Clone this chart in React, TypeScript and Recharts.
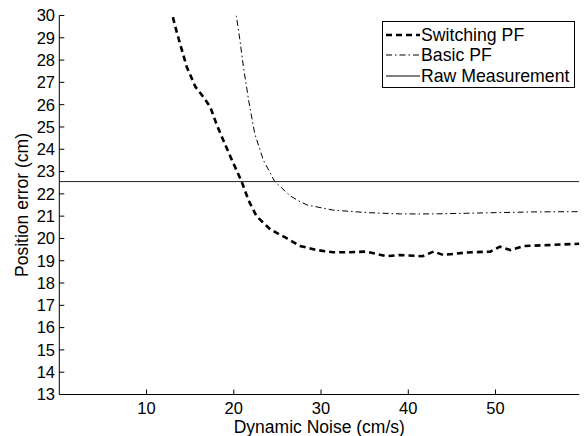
import React from 'react';
import { LineChart, Line, XAxis, YAxis, Legend } from 'recharts';

// values
const switchingX = [12.5, 13.0, 13.5, 14.6, 15.6, 16.5, 17.3, 18.0, 18.8, 19.8, 20.9, 21.7, 22.6, 24.2, 26.1, 27.6, 29.5, 31.4, 33.3, 35.2, 37.5, 39.1, 41.6, 42.9, 44.0, 46.7, 49.4, 50.5, 51.7, 53.2, 55.9, 58.9, 59.6];
const switchingY = [30.8, 29.95, 29.2, 27.7, 26.8, 26.35, 25.9, 25.15, 24.4, 23.5, 22.55, 21.7, 21.0, 20.4, 20.0, 19.66, 19.48, 19.38, 19.38, 19.41, 19.2, 19.26, 19.2, 19.41, 19.26, 19.37, 19.41, 19.63, 19.48, 19.66, 19.7, 19.75, 19.76];

const basicX = [20.0, 20.3, 20.7, 21.1, 21.7, 22.4, 23.4, 24.7, 26.5, 27.6, 28.4, 31.4, 35.2, 39.1, 42.9, 46.7, 50.5, 54.4, 58.9, 59.6];
const basicY = [31.0, 29.95, 28.9, 27.7, 26.2, 24.7, 23.5, 22.55, 21.9, 21.65, 21.5, 21.27, 21.16, 21.1, 21.1, 21.13, 21.16, 21.19, 21.2, 21.2];

const rawX = [0, 59.6];
const rawY = [22.55, 22.55];

const xTicks = [10, 20, 30, 40, 50];
const yTicks = [13, 14, 15, 16, 17, 18, 19, 20, 21, 22, 23, 24, 25, 26, 27, 28, 29, 30];

const X_DOMAIN: [number, number] = [0, 59.6];
const Y_DOMAIN: [number, number] = [13, 30];

const zip = (xs: number[], ys: number[]) => xs.map((x, i) => ({ x, y: ys[i] }));

const switchingData = zip(switchingX, switchingY);
const basicData = zip(basicX, basicY);
const rawData = zip(rawX, rawY);

const FONT = '"Liberation Sans", Arial, Helvetica, sans-serif';

const legendItems = [
  { name: 'Switching PF', width: 2.6, dash: '6 4' },
  { name: 'Basic PF', width: 1, dash: '6 3 1.5 3' },
  { name: 'Raw Measurement', width: 1, dash: undefined },
];

const renderLegend = () => (
  <div
    style={{
      width: 193,
      height: 67,
      boxSizing: 'border-box',
      border: '1px solid #000',
      background: '#fff',
      paddingTop: 2.5,
      fontFamily: FONT,
      fontSize: 17.7,
      color: '#000',
    }}
  >
    {legendItems.map((it) => (
      <div key={it.name} style={{ display: 'flex', alignItems: 'center', height: 20.5 }}>
        <svg width={38} height={20} style={{ display: 'block', flex: 'none' }}>
          <line x1={3} x2={37} y1={10} y2={10} stroke="#000" strokeWidth={it.width} strokeDasharray={it.dash} />
        </svg>
        <span style={{ lineHeight: '20px', whiteSpace: 'nowrap' }}>{it.name}</span>
      </div>
    ))}
  </div>
);

export default function App() {
  const tickStyle = { fill: '#000', fontSize: 16.5, fontFamily: FONT };
  return (
    <div style={{ position: 'absolute', left: 0, top: 0, width: 584, height: 436, background: '#fff' }}>
      <LineChart
        width={584}
        height={436}
        margin={{ top: 15.5, right: 4.7, bottom: 3.5, left: 0 }}
        style={{ fontFamily: FONT }}
      >
        <XAxis
          dataKey="x"
          type="number"
          domain={X_DOMAIN}
          allowDataOverflow
          ticks={xTicks}
          height={38}
          stroke="#000"
          tickSize={-5}
          tickMargin={13}
          tick={tickStyle}
          label={{ value: 'Dynamic Noise (cm/s)', position: 'insideBottom', offset: 0, fill: '#000', fontSize: 17.5 }}
        />
        <XAxis
          xAxisId="top"
          orientation="top"
          dataKey="x"
          type="number"
          domain={X_DOMAIN}
          allowDataOverflow
          ticks={xTicks}
          height={0}
          stroke="#000"
          tickSize={-5}
          tick={false}
        />
        <YAxis
          type="number"
          domain={Y_DOMAIN}
          allowDataOverflow
          ticks={yTicks}
          interval={0}
          width={59.3}
          stroke="#000"
          tickSize={-5}
          tickMargin={9.3}
          tick={tickStyle}
          label={{
            value: 'Position error (cm)',
            angle: -90,
            position: 'insideLeft',
            offset: 21.6,
            fill: '#000',
            fontSize: 17.5,
            style: { textAnchor: 'middle' },
          }}
        />
        <YAxis
          yAxisId="right"
          orientation="right"
          type="number"
          domain={Y_DOMAIN}
          allowDataOverflow
          ticks={yTicks}
          interval={0}
          width={0}
          stroke="#000"
          tickSize={-5}
          tick={false}
        />
        <Legend
          layout="vertical"
          align="center"
          verticalAlign="middle"
          content={renderLegend}
          wrapperStyle={{ position: 'absolute', left: 382, top: 21, width: 193, height: 67 }}
        />
        <Line
          data={switchingData}
          dataKey="y"
          name="Switching PF"
          stroke="#000"
          strokeWidth={2.6}
          strokeDasharray="6 4"
          dot={false}
          type="linear"
          isAnimationActive={false}
        />
        <Line
          data={basicData}
          dataKey="y"
          name="Basic PF"
          stroke="#000"
          strokeWidth={1}
          strokeDasharray="6 3 1.5 3"
          dot={false}
          type="linear"
          isAnimationActive={false}
        />
        <Line
          data={rawData}
          dataKey="y"
          name="Raw Measurement"
          stroke="#222"
          strokeWidth={1}
          dot={false}
          type="linear"
          isAnimationActive={false}
        />
      </LineChart>
    </div>
  );
}
